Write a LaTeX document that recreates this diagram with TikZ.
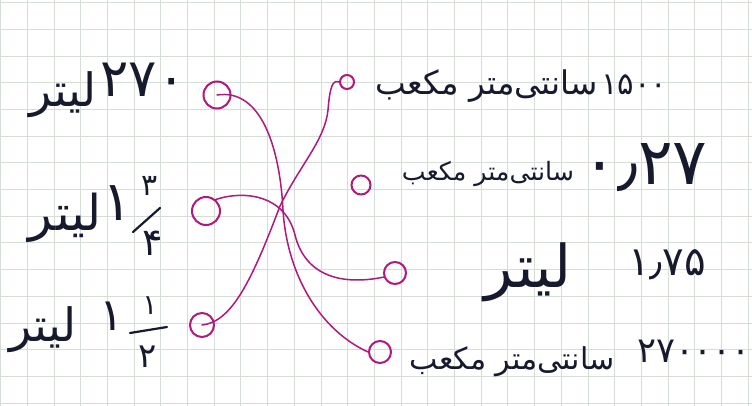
\documentclass[tikz,border=0pt]{standalone}
\usepackage{fontspec}
\usepackage{graphicx}
\TeXXeTstate=1
\newfontfamily\arabicfont[Script=Arabic]{DejaVu Sans}
\definecolor{ink}{HTML}{161A2C}
\definecolor{pen}{HTML}{B0187C}
\definecolor{gridc}{HTML}{D6DCD6}
\newcommand{\fw}[2]{\resizebox{#1pt}{!}{\arabicfont #2}}
\newcommand{\fsz}[2]{{\arabicfont\fontsize{#1}{#1}\selectfont #2}}
\begin{document}
\begin{tikzpicture}[x=1pt,y=-1pt,
  lbl/.style={inner sep=0pt,text=ink},
  dotc/.style={circle,draw=pen,line width=2pt,inner sep=0pt},
  link/.style={draw=pen,line width=1.5pt,line cap=round},
  fbar/.style={draw=ink,line width=2.2pt,line cap=round}]
\fill[white] (0,0) rectangle (752,406);
\useasboundingbox (0,0) rectangle (752,406);
\foreach \i in {0,...,28} \draw[gridc,line width=0.7pt] (0.5+26.7*\i,0) -- (0.5+26.7*\i,406);
\foreach \j in {0,...,15} \draw[gridc,line width=0.7pt] (0,2.5+26.7*\j) -- (752,2.5+26.7*\j);

% left column
\node[lbl] (w1) at (63,95) {\fw{67}{\beginR لیتر\endR}};
\node[lbl] (n1) at (143,80) {\fw{85}{۲۷۰}};
\node[lbl] (w2) at (65,218) {\fw{72}{\beginR لیتر\endR}};
\node[lbl] (i2) at (117,203) {\fsz{55}{۱}};
\node[lbl] (a2) at (150,186) {\fsz{30}{۳}};
\node[lbl] (b2) at (153,243) {\fsz{38}{۴}};
\draw[fbar] (133,232) -- (160,208);
\node[lbl] (w3) at (43,330) {\fw{67}{\beginR لیتر\endR}};
\node[lbl] (i3) at (112,316) {\fsz{45}{۱}};
\node[lbl] (a3) at (150,306) {\fsz{28}{۱}};
\node[lbl] (b3) at (148,357) {\fsz{34}{۲}};
\draw[fbar] (130,333) -- (167,327);

% right column
\node[lbl] (w4) at (487,86) {\fw{222}{\beginR سانتی‌متر مکعب\endR}};
\node[lbl] (n4) at (634,85) {\fw{66}{۱۵۰۰}};
\node[lbl] (w5) at (488,174) {\fw{172}{\beginR سانتی‌متر مکعب\endR}};
\node[lbl] (n5) at (645,168) {\fw{125}{۰٫۲۷}};
\node[lbl] (w6) at (528,272) {\fw{86}{\beginR لیتر\endR}};
\node[lbl] (n6) at (667,265) {\fw{78}{۱٫۷۵}};
\node[lbl] (w7) at (512,362) {\fw{205}{\beginR سانتی‌متر مکعب\endR}};
\node[lbl] (n7) at (694,351) {\fw{114}{۲۷۰۰۰۰}};

% circles
\node[dotc,minimum size=27pt] (c1) at (217,95) {};
\node[dotc,minimum size=28pt] (c2) at (206,211) {};
\node[dotc,minimum size=24pt] (c5) at (202,325) {};
\node[dotc,minimum size=14pt] (c4) at (347,82) {};
\node[dotc,minimum size=19pt] (c6) at (361,185) {};
\node[dotc,minimum size=22pt] (c3) at (395,273) {};
\node[dotc,minimum size=22pt] (c7) at (380,352) {};

% links
\draw[link] (c1.center) .. controls (262,88) and (280,150) .. (283,210)
  .. controls (287,275) and (320,330) .. (c7.west);
\draw[link] (c2.50) .. controls (245,190) and (285,195) .. (295,235)
  .. controls (305,275) and (340,286) .. (c3.200);
\draw[link] (c5.center) .. controls (232,322) and (252,280) .. (280,206)
  .. controls (300,165) and (325,140) .. (328,110)
  .. controls (330,85) and (333,80) .. (c4.west);
\end{tikzpicture}
\end{document}
